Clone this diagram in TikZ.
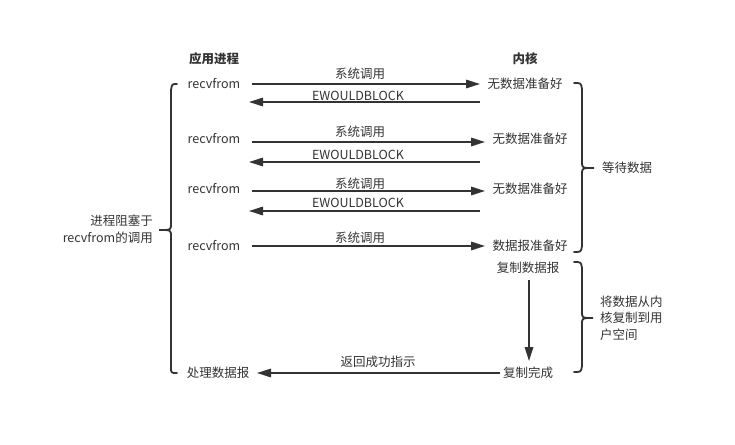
\documentclass[tikz,border=0pt]{standalone}
\usepackage{fontspec}
\setmainfont{Noto Sans CJK SC}
\usetikzlibrary{arrows.meta}
\definecolor{ln}{HTML}{333333}
\tikzset{
  lbl/.style={inner sep=0pt, text=ln, font=\fontsize{12.5}{16.5}\selectfont},
  hd/.style={lbl, font=\fontsize{12.5}{16.5}\selectfont\bfseries},
  arr/.style={draw=ln, line width=1.6pt, -{Triangle[length=14pt,width=8.5pt]}},
  brc/.style={draw=ln, line width=1.8pt, line cap=round}
}
\begin{document}
\begin{tikzpicture}[x=1pt,y=-1pt]
\useasboundingbox (0,0) rectangle (735,444);
% headers
\node[hd] (app) at (214,59) {应用进程};
\node[hd] (ker) at (525,59) {内核};
% left column
\node[lbl] (r1) at (214,84) {recvfrom};
\node[lbl] (r2) at (214,139) {recvfrom};
\node[lbl] (r3) at (214,189) {recvfrom};
\node[lbl] (r4) at (214,246) {recvfrom};
\node[lbl] (proc) at (218,373) {处理数据报};
% right column
\node[lbl] (k1) at (525,84) {无数据准备好};
\node[lbl] (k2) at (530,139) {无数据准备好};
\node[lbl] (k3) at (530,189) {无数据准备好};
\node[lbl] (k4) at (530,246) {数据报准备好};
\node[lbl] (cp) at (528,268) {复制数据报};
\node[lbl] (done) at (528,373) {复制完成};
% coordinates for arrows
\coordinate (a1s) at (252,84);  \coordinate (a1e) at (480,84);
\coordinate (b1s) at (480,102); \coordinate (b1e) at (249,102);
\coordinate (a2s) at (252,142); \coordinate (a2e) at (485,142);
\coordinate (b2s) at (480,162); \coordinate (b2e) at (249,162);
\coordinate (a3s) at (252,191); \coordinate (a3e) at (485,191);
\coordinate (b3s) at (480,211); \coordinate (b3e) at (249,211);
\coordinate (a4s) at (252,246); \coordinate (a4e) at (485,246);
\coordinate (ds) at (529,280);  \coordinate (de) at (529,361);
\coordinate (rs) at (500,373);  \coordinate (re) at (257,373);
\draw[arr] (a1s) -- (a1e);
\draw[arr] (b1s) -- (b1e);
\draw[arr] (a2s) -- (a2e);
\draw[arr] (b2s) -- (b2e);
\draw[arr] (a3s) -- (a3e);
\draw[arr] (b3s) -- (b3e);
\draw[arr] (a4s) -- (a4e);
\draw[arr] (ds) -- (de);
\draw[arr] (rs) -- (re);
% arrow labels
\node[lbl] (l1) at (360,74) {系统调用};
\node[lbl] (e1) at (358,96) {EWOULDBLOCK};
\node[lbl] (l2) at (360,132) {系统调用};
\node[lbl] (e2) at (358,155) {EWOULDBLOCK};
\node[lbl] (l3) at (360,184) {系统调用};
\node[lbl] (e3) at (358,203) {EWOULDBLOCK};
\node[lbl] (l4) at (360,238) {系统调用};
\node[lbl] (ret) at (378,362) {返回成功指示};
% left brace
\draw[brc] (177,84) .. controls (172,84) .. (171,90) -- (171,224) .. controls (171,230) .. (159,230)
  .. controls (171,230) .. (171,236) -- (171,367) .. controls (171,373) .. (177,373);
\node[lbl, align=right, anchor=east] (blk) at (153,229) {进程阻塞于\\recvfrom的调用};
% right brace 1
\draw[brc] (574,83) .. controls (581,83) .. (582,89) -- (582,162) .. controls (582,168) .. (594,168)
  .. controls (582,168) .. (582,174) -- (582,246) .. controls (581,252) .. (574,252);
\node[lbl, anchor=west] (wait) at (602,168) {等待数据};
% right brace 2
\draw[brc] (574,262) .. controls (581,262) .. (582,268) -- (582,312) .. controls (582,318) .. (593,318)
  .. controls (582,318) .. (582,324) -- (582,366) .. controls (581,372) .. (574,372);
\node[lbl, anchor=west, align=left] (copy) at (600,318) {将数据从内\\核复制到用\\户空间};
\end{tikzpicture}
\end{document}
